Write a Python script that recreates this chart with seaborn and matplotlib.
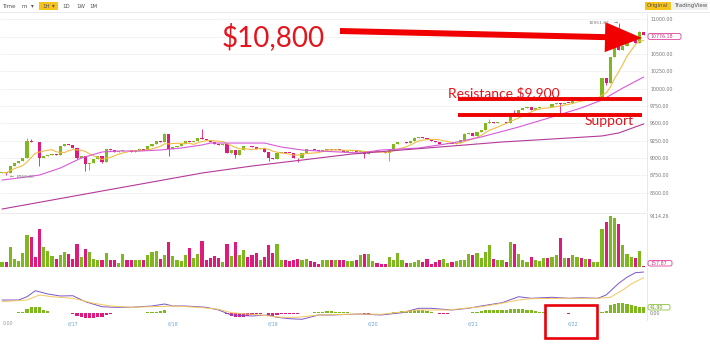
import numpy as np
import pandas as pd
import matplotlib
matplotlib.use("Agg")
import matplotlib.pyplot as plt
import seaborn as sns
from matplotlib.patches import FancyArrow, Rectangle, FancyBboxPatch

# ---------------- data (hourly BTC candles) ----------------
first_open = 8790
closes = [8795, 8780, 8890, 8930, 8960, 9005, 9250, 9235, 9225, 9005,
          9030, 9045, 9060, 9040, 9180, 9200, 9190, 9150, 9005, 9030,
          8920, 8935, 8990, 9035, 8940, 9135, 9110, 9090, 9100, 9120,
          9110, 9095, 9110, 9125, 9115, 9170, 9200, 9240, 9225, 9350,
          9135, 9155, 9180, 9205, 9240, 9225, 9245, 9295, 9280, 9265,
          9230, 9200, 9190, 9210, 9080, 9110, 9050, 9110, 9180, 9170,
          9165, 9135, 9150, 9085, 9000, 8990, 9075, 9085, 9080, 9078,
          9000, 8995, 9078, 9136, 9125, 9115, 9105, 9115, 9125, 9115,
          9125, 9110, 9095, 9105, 9110, 9090, 9100, 9060, 9085, 9095,
          9090, 9085, 9080, 9110, 9200, 9225, 9230, 9220, 9250, 9295,
          9300, 9290, 9280, 9250, 9225, 9200, 9205, 9210, 9205, 9215,
          9265, 9350, 9355, 9325, 9370, 9400, 9500, 9515, 9505, 9520,
          9525, 9505, 9655, 9640, 9700, 9725, 9730, 9690, 9720, 9730,
          9735, 9730, 9786, 9790, 9780, 9800, 9795, 9840, 9865, 9858,
          9870, 9862, 9870, 9875, 10150, 10075, 10450, 10740, 10552, 10610,
          10700, 10740, 10653, 10812, 10776.18]
high_marks = {6: 9290, 7: 9275, 39: 9365, 48: 9425, 99: 9305, 111: 9360, 117: 9560,
              123: 9690, 144: 10160, 147: 10760, 148: 10951.87, 153: 10830}
low_marks = {1: 8760, 9: 8890, 18: 8990, 20: 8818, 21: 8830, 24: 8925, 40: 9035,
             56: 9000, 64: 8965, 71: 8950, 87: 9000, 93: 8960, 134: 9640, 145: 10060}

volumes = [900, 900, 3600, 1440, 1080, 2520, 5580, 5220, 1800, 6660,
           3600, 2880, 1980, 1440, 2160, 2700, 2340, 1440, 4140, 1800,
           3240, 2700, 1440, 1260, 1260, 2520, 1260, 1260, 720, 2340,
           1260, 1260, 1260, 1260, 1260, 2160, 2700, 2880, 1440, 2160,
           4500, 1980, 1260, 1080, 2160, 3420, 1620, 2340, 4680, 1260,
           1620, 1980, 1620, 900, 4140, 1980, 4500, 2160, 3060, 1800,
           2160, 2520, 1260, 1800, 3960, 2520, 4140, 1260, 1260, 1080,
           1260, 1440, 1260, 1440, 1080, 900, 540, 1260, 1260, 1260,
           1260, 1260, 1260, 1080, 1080, 1260, 2160, 2340, 2340, 1080,
           720, 540, 540, 1800, 1260, 2520, 1260, 720, 720, 900,
           1260, 900, 1440, 540, 900, 1260, 1440, 720, 900, 1080,
           1260, 1260, 2340, 2160, 2520, 1620, 2700, 3960, 1440, 1260,
           1260, 900, 4500, 4140, 2340, 1260, 900, 1800, 1260, 1080,
           1620, 1620, 1800, 2160, 5040, 1620, 1620, 2160, 1800, 1620,
           1440, 1440, 900, 900, 6660, 7920, 9114.26, 8640, 7560, 3960,
           2340, 1800, 1620, 2880, 157.87]

macd_hist = [-2, 2, 3, 3, 7, 10, 25, 40, 45, 42,
             20, 12, -2, -3, -3, -2, -3, -5, -20, -28,
             -32, -35, -33, -30, -25, -15, -4, -3, -3, -3,
             -3, -3, -3, -3, -3, 5, 8, 10, 14, 18,
             -3, -3, -3, -3, -3, -3, -3, -3, -3, -3,
             -3, -3, -3, -3, -10, -18, -25, -28, -25, -20,
             -15, -10, -8, -3, -18, -20, -15, -8, -7, -6,
             -5, -4, -3, 2, 3, 5, 8, 10, 12, 12,
             10, 8, 6, 4, 3, -2, -3, -4, -4, -3,
             -3, -2, -2, 2, 5, 8, 12, 15, 18, 20,
             20, 18, 14, 10, -3, -4, -5, -4, -3, -3,
             -2, 2, 3, 6, 10, 14, 18, 20, 20, 20,
             20, 22, 25, 27, 27, 25, 22, 18, 14, 8,
             5, 3, 2, -2, -3, -3, -4, -3, -3, -2,
             -2, 2, 2, 3, 5, 15, 55, 63, 70, 70,
             63, 56, 50, 45, 41.9]

# medium and long moving averages (they carry history from before the window)
ma_mid_idx = [0, 4, 9, 14, 19, 24, 28, 33, 38, 43, 48, 50, 55, 63, 67, 72, 76, 81, 86,
              91, 100, 108, 115, 124, 132, 139, 144, 149, 154]
ma_mid_val = [8684, 8713, 8756, 8857, 9001, 9088, 9102, 9102, 9117, 9145, 9189, 9217,
              9217, 9217, 9160, 9117, 9102, 9088, 9073, 9117, 9145, 9217, 9304, 9448,
              9592, 9722, 9837, 10010, 10168]
ma_long_idx = [0, 12, 24, 36, 48, 60, 72, 84, 96, 108, 120, 132, 144, 148, 154]
ma_long_val = [8266, 8396, 8526, 8655, 8785, 8886, 8972, 9059, 9117, 9174, 9232, 9275,
               9319, 9362, 9492]

macd_idx = [0, 4, 6, 8, 11, 14, 17, 20, 24, 27, 31, 36, 39, 41, 44, 49, 52, 55, 60, 64,
            66, 69, 72, 76, 79, 86, 91, 96, 100, 103, 108, 112, 115, 120, 124, 127, 132,
            136, 139, 143, 145, 148, 150, 152, 154]
macd_val = [91, 91, 114, 156, 133, 119, 121, 79, 44, 40, 40, 49, 63, 49, 49, 40, 21, -14,
            -21, -14, -30, -40, -44, -14, -14, -7, -14, 2, 33, 33, 21, 33, 49, 72, 114,
            103, 110, 103, 107, 103, 126, 208, 250, 282, 287]
signal_idx = [0, 6, 9, 12, 17, 22, 26, 31, 36, 41, 47, 52, 55, 62, 67, 71, 76, 86, 91,
              100, 107, 115, 119, 124, 127, 135, 143, 146, 149, 151, 154]
signal_val = [79, 91, 126, 114, 103, 68, 49, 40, 44, 49, 40, 26, 2, -14, -30, -30, -14,
              -7, -9, 21, 21, 44, 63, 91, 100, 103, 103, 110, 161, 203, 247]

price_ticks = [8500, 8750, 9000, 9250, 9500, 9750, 10000, 10250, 10500, 10750, 11000]
x_tick_pos = [1.5, 17, 41, 65, 89, 113, 137]
x_tick_labels = ["0:00", "6/17", "6/18", "6/19", "6/20", "6/21", "6/22"]
resistance_level = 9852
support_level = 9621
level_span = (109.5, 153.5)
vol_max_label = 9114.26
last_volume = 157.87
last_price = 10776.18
last_hist = 41.90
period_high = 10951.87
period_low = 8760.00

# ---------------- derived table ----------------
n = len(closes)
idx = np.arange(n)
opens = [first_open] + closes[:-1]
df = pd.DataFrame({"i": idx, "open": opens, "close": closes, "volume": volumes,
                   "hist": macd_hist})
df["high"] = [max(high_marks.get(k, 0), o, c) for k, o, c in zip(idx, opens, closes)]
df["low"] = [min(low_marks.get(k, 1e9), o, c) for k, o, c in zip(idx, opens, closes)]
df["dir"] = np.where(df["close"] >= df["open"], "up", "down")
df["hdir"] = np.where(df["hist"] >= 0, "up", "down")
df["ma_fast"] = df["close"].rolling(7, min_periods=1).mean()

GREEN = "#7fb81e"
PINK = "#e0197d"
pal = {"up": GREEN, "down": PINK}

# ---------------- figure ----------------
sns.set_theme(style="white")
plt.rcParams["font.family"] = ["DejaVu Sans"]
fig = plt.figure(figsize=(7.10, 3.44), dpi=100)
W, H = 710.0, 344.0

def ax_at(x0, y0, x1, y1):
    return fig.add_axes([x0 / W, 1 - y1 / H, (x1 - x0) / W, (y1 - y0) / H])

ax_p = ax_at(0, 14, 647, 211)
ax_v = ax_at(0, 213, 647, 266.7)
ax_m = ax_at(0, 268, 647, 320)

XMIN, XMAX = -0.48, 154.8
for a in (ax_p, ax_v, ax_m):
    a.set_xlim(XMIN, XMAX)
    a.set_facecolor("white")
    for s in ("top", "left", "bottom"):
        a.spines[s].set_visible(False)
    a.spines["right"].set_color("#e4e4e4")
    a.spines["right"].set_linewidth(0.6)
    a.yaxis.tick_right()
    a.tick_params(axis="y", length=0, pad=2.2, labelsize=3.4, labelcolor="#777777")
    a.tick_params(axis="x", length=0)
    a.set_xlabel("")
    a.set_ylabel("")

# price panel
ax_p.set_ylim(8238, 11076)
ax_p.set_yticks(price_ticks)
ax_p.set_yticklabels([f"{t:.2f}" for t in price_ticks])
for t in price_ticks:
    ax_p.axhline(t, color="#efefef", lw=0.5, zorder=0)
ax_p.set_xticks([])

colors = [pal[d] for d in df["dir"]]
ax_p.vlines(df["i"], df["low"], df["high"], colors=colors, lw=0.6, zorder=3)
body_bottom = np.minimum(df["open"], df["close"])
body_h = np.maximum(np.abs(df["close"] - df["open"]), 7)
ax_p.bar(df["i"], body_h, bottom=body_bottom, width=0.76, color=colors, zorder=4,
         linewidth=0)

sns.lineplot(x=df["i"], y=df["ma_fast"], ax=ax_p, color="#f1bd45", lw=0.8, zorder=5)
sns.lineplot(x=ma_mid_idx, y=ma_mid_val, ax=ax_p, color="#d85ad8", lw=0.8, zorder=5)
sns.lineplot(x=ma_long_idx, y=ma_long_val, ax=ax_p, color="#b43a98", lw=0.8, zorder=5)
ax_p.set_xlabel(""); ax_p.set_ylabel("")

# resistance / support drawn lines
ax_p.hlines([resistance_level, support_level], level_span[0], level_span[1],
            colors="#ee0000", lw=2.8, zorder=8)

# volume panel
sns.barplot(data=df, x="i", y="volume", hue="dir", palette=pal, dodge=False,
            native_scale=True, width=0.76, legend=False, ax=ax_v, linewidth=0,
            saturation=1, zorder=3)
ax_v.set_xlim(XMIN, XMAX)
ax_v.set_ylim(0, 9596)
ax_v.set_yticks([vol_max_label])
ax_v.set_yticklabels([f"{vol_max_label:.2f}"])
ax_v.axhline(9596, color="#e8e8e8", lw=0.6)
ax_v.set_xticks([])
ax_v.set_xlabel(""); ax_v.set_ylabel("")

# MACD panel
sns.barplot(data=df, x="i", y="hist", hue="hdir", palette=pal, dodge=False,
            native_scale=True, width=0.76, legend=False, ax=ax_m, linewidth=0,
            saturation=1, zorder=3)
sns.lineplot(x=macd_idx, y=macd_val, ax=ax_m, color="#7b56c9", lw=0.7, zorder=4)
sns.lineplot(x=signal_idx, y=signal_val, ax=ax_m, color="#f3c85e", lw=0.7, zorder=4)
ax_m.set_xlim(XMIN, XMAX)
ax_m.set_ylim(-49, 315)
ax_m.set_yticks([0])
ax_m.set_yticklabels(["0.00"])
ax_m.set_xticks(x_tick_pos)
ax_m.set_xticklabels(x_tick_labels)
ax_m.tick_params(axis="x", labelsize=3.4, pad=1.0)
for lab in ax_m.get_xticklabels():
    lab.set_color("#6aa6d6" if lab.get_text() != "0:00" else "#999999")
ax_m.set_xlabel(""); ax_m.set_ylabel("")

# ---------------- overlay in pixel coordinates ----------------
ov = fig.add_axes([0, 0, 1, 1], zorder=20)
ov.set_xlim(0, W)
ov.set_ylim(H, 0)
ov.axis("off")
ov.patch.set_alpha(0)

# toolbar
ov.add_patch(Rectangle((39, 1.5), 19, 8, color="#f6c21c", lw=0))
ov.add_patch(Rectangle((645, 1.5), 26, 8, color="#f6c21c", lw=0))
ov.add_patch(Rectangle((672, 1.5), 36, 8, color="#f0f0f0", lw=0))
ov.plot([0, 710], [12, 12], color="#e6e6e6", lw=0.6)
tb = dict(fontsize=4, color="#555555", va="center", ha="left")
for s, x in [("Time", 2), ("m", 21), ("▾", 31), ("1H", 42), ("▾", 52), ("1D", 62),
             ("1W", 76), ("1M", 89), ("Original", 647), ("TradingView", 674)]:
    ov.text(x, 6, s, **tb)

# value tags on the right
ov.add_patch(FancyBboxPatch((648, 33.5), 33, 6, boxstyle="round,pad=0,rounding_size=2",
                            fc="white", ec="#e0409a", lw=0.6))
ov.text(650, 36.5, f"{last_price:.2f}", fontsize=3.4, color="#c83a8a", va="center")
ov.add_patch(FancyBboxPatch((648, 260.5), 24, 5.5, boxstyle="round,pad=0,rounding_size=2",
                            fc="white", ec="#e0409a", lw=0.6))
ov.text(650, 263.2, f"{last_volume:.2f}", fontsize=3.4, color="#c83a8a", va="center")
ov.add_patch(FancyBboxPatch((648, 304.5), 22, 5.5, boxstyle="round,pad=0,rounding_size=2",
                            fc="white", ec="#8cc43a", lw=0.6))
ov.text(650, 307.2, f"{last_hist:.2f}", fontsize=3.4, color="#6a9a2a", va="center")

# high / low markers
ov.text(589, 22.5, f"{period_high:.2f}", fontsize=3.2, color="#777777", va="center")
ov.text(614, 22.5, "→", fontsize=3.4, color="#777777", va="center")
ov.text(10, 176.5, "←", fontsize=3.4, color="#777777", va="center")
ov.text(17, 176.5, f"{period_low:.2f}", fontsize=3.2, color="#777777", va="center")

# annotations
ov.add_patch(FancyArrow(340, 31, 302, 7, width=6, head_width=30, head_length=37,
                        length_includes_head=True, color="#f00000", lw=0))
ov.text(222, 46, "$10,800", fontsize=20, family=["Lato", "DejaVu Sans"],
        color="#e3141c", va="baseline", ha="left")
ov.text(448, 96.7, "Resistance $9,900", fontsize=10, family=["Lato", "DejaVu Sans"],
        color="#e3141c", va="baseline", ha="left")
ov.text(585, 125.3, "Support", fontsize=10, family=["Lato", "DejaVu Sans"],
        color="#e3141c", va="baseline", ha="left")
ov.add_patch(Rectangle((545, 305), 52, 33, fill=False, ec="#e8000b", lw=1.9))

fig.savefig("out.png", dpi=100)
